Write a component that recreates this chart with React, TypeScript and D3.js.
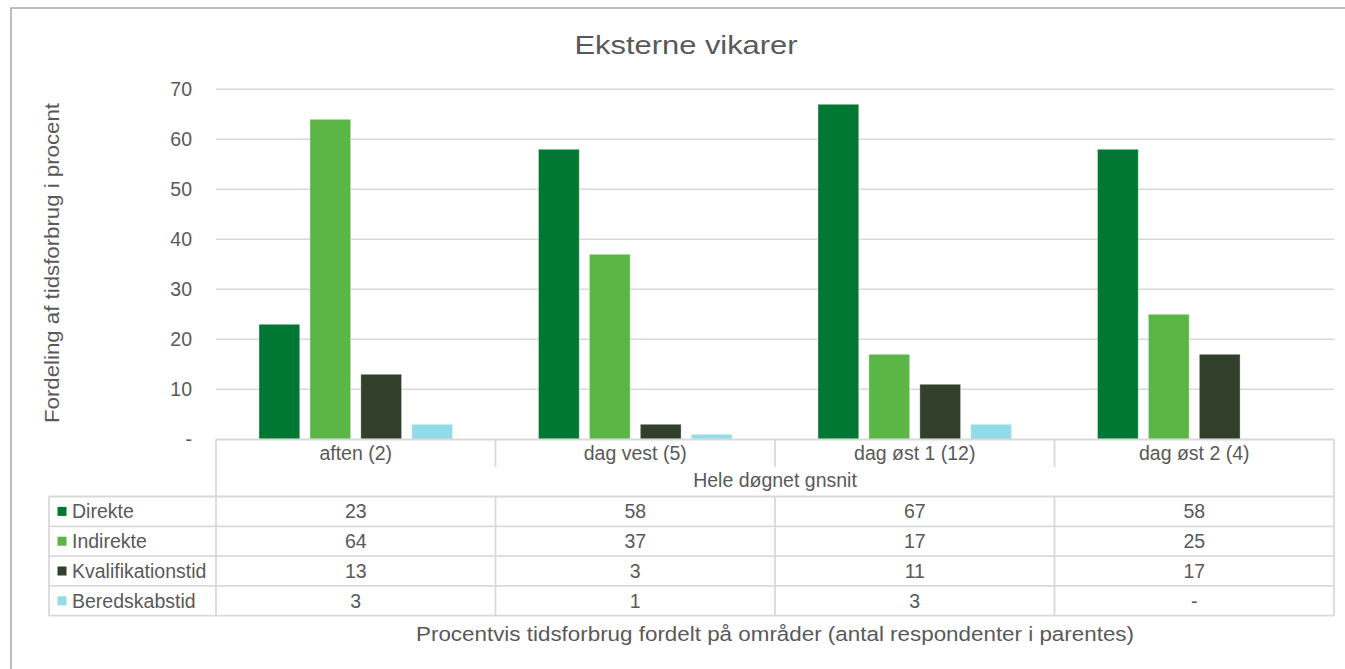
import React from 'react';
import * as d3 from 'd3';

// Survey results: share of working time by area, external temps
const categories = ['aften (2)', 'dag vest (5)', 'dag øst 1 (12)', 'dag øst 2 (4)'];
const seriesNames = ['Direkte', 'Indirekte', 'Kvalifikationstid', 'Beredskabstid'];
const direkte = [23, 58, 67, 58];
const indirekte = [64, 37, 17, 25];
const kvalifikationstid = [13, 3, 11, 17];
const beredskabstid: (number | null)[] = [3, 1, 3, null];
const seriesColors = ['#007833', '#5cb547', '#313f2b', '#92dce8'];
const yTicks = [0, 10, 20, 30, 40, 50, 60, 70];

const title = 'Eksterne vikarer';
const yTitle = 'Fordeling af tidsforbrug i procent';
const xTitle = 'Procentvis tidsforbrug fordelt på områder (antal respondenter i parentes)';
const groupTitle = 'Hele døgnet gnsnit';

const W = 1345;
const H = 669;
const FONT = '"Liberation Sans", Arial, sans-serif';
const TEXT = '#595959';
const LINE = '#d9d9d9';

export default function App() {
  const series = [direkte, indirekte, kvalifikationstid, beredskabstid];

  const plotLeft = 216;
  const plotRight = 1334;
  const y = d3.scaleLinear().domain([0, 70]).range([439.3, 89.3]);
  const x0 = d3.scaleBand<string>().domain(categories).range([plotLeft, plotRight]).padding(0);
  const bw = x0.bandwidth();
  const x1 = d3
    .scaleBand<string>()
    .domain(seriesNames)
    .range([43, bw - 43])
    .paddingInner(0.2)
    .paddingOuter(0);

  const tableTop = 439.5;
  const catDivBottom = 467;
  const rowTop = 496.5;
  const rowH = 29.8;
  const legendLeft = 49;
  const tableBottom = rowTop + rowH * seriesNames.length;
  const fmt = (v: number | null) => (v === null || v === 0 ? '-' : d3.format('d')(v));

  const boundaries = [...categories.map((c) => x0(c) as number), plotRight];

  return (
    <svg
      width={W}
      height={H}
      style={{ position: 'absolute', left: 0, top: 0, background: '#fff' }}
      fontFamily={FONT}
    >
      <rect x={0} y={0} width={W} height={H} fill="#fff" />
      {/* chart frame */}
      <rect x={11} y={8} width={W + 20} height={H + 20} fill="none" stroke="#a6a6a6" strokeWidth={1.5} />

      <text x={686} y={53.5} textAnchor="middle" fontSize={26} fill={TEXT} textLength={223} lengthAdjust="spacingAndGlyphs">
        {title}
      </text>

      {/* gridlines and y tick labels */}
      {yTicks.map((t) => (
        <g key={t}>
          {t > 0 && (
            <line x1={plotLeft} x2={plotRight} y1={y(t)} y2={y(t)} stroke={LINE} strokeWidth={1.5} />
          )}
          <text x={192} y={y(t) + 7} textAnchor="end" fontSize={19.5} fill={TEXT}>
            {fmt(t)}
          </text>
        </g>
      ))}

      <text
        transform={`translate(59,263) rotate(-90)`}
        textAnchor="middle"
        fontSize={20}
        fill={TEXT}
        textLength={320}
        lengthAdjust="spacingAndGlyphs"
      >
        {yTitle}
      </text>

      {/* bars */}
      {categories.map((c, ci) => (
        <g key={c} transform={`translate(${x0(c)},0)`}>
          {seriesNames.map((s, si) => {
            const v = series[si][ci];
            if (v === null || v === undefined) return null;
            return (
              <rect
                key={s}
                x={x1(s)}
                y={y(v)}
                width={x1.bandwidth()}
                height={y(0) - y(v)}
                fill={seriesColors[si]}
                stroke="#ffffff"
                strokeOpacity={0.35}
                strokeWidth={1}
              />
            );
          })}
        </g>
      ))}

      {/* data table */}
      <g stroke={LINE} strokeWidth={1.8} fill="none">
        <line x1={plotLeft} x2={plotRight} y1={tableTop} y2={tableTop} />
        <line x1={plotLeft} x2={plotLeft} y1={tableTop} y2={tableBottom} />
        <line x1={plotRight} x2={plotRight} y1={tableTop} y2={tableBottom} />
        {boundaries.slice(1, -1).map((bx, i) => (
          <g key={i}>
            <line x1={bx} x2={bx} y1={tableTop} y2={catDivBottom} />
            <line x1={bx} x2={bx} y1={rowTop} y2={tableBottom} />
          </g>
        ))}
        <line x1={legendLeft} x2={legendLeft} y1={rowTop} y2={tableBottom} />
        {d3.range(seriesNames.length + 1).map((r) => (
          <line key={r} x1={legendLeft} x2={plotRight} y1={rowTop + r * rowH} y2={rowTop + r * rowH} />
        ))}
      </g>

      {categories.map((c) => (
        <text key={c} x={(x0(c) as number) + bw / 2} y={460} textAnchor="middle" fontSize={19.5} fill={TEXT}>
          {c}
        </text>
      ))}
      <text x={(plotLeft + plotRight) / 2} y={487} textAnchor="middle" fontSize={19.5} fill={TEXT}>
        {groupTitle}
      </text>

      {seriesNames.map((s, si) => {
        const cy = rowTop + si * rowH + rowH / 2;
        return (
          <g key={s}>
            <rect x={57.5} y={cy - 4.5} width={9} height={9} fill={seriesColors[si]} />
            <text x={72} y={cy + 7} fontSize={19.5} fill={TEXT}>
              {s}
            </text>
            {categories.map((c, ci) => (
              <text key={c} x={(x0(c) as number) + bw / 2} y={cy + 7} textAnchor="middle" fontSize={19.5} fill={TEXT}>
                {fmt(series[si][ci])}
              </text>
            ))}
          </g>
        );
      })}

      <text
        x={(plotLeft + plotRight) / 2}
        y={641}
        textAnchor="middle"
        fontSize={20.5}
        fill={TEXT}
        textLength={718}
        lengthAdjust="spacingAndGlyphs"
      >
        {xTitle}
      </text>
    </svg>
  );
}
